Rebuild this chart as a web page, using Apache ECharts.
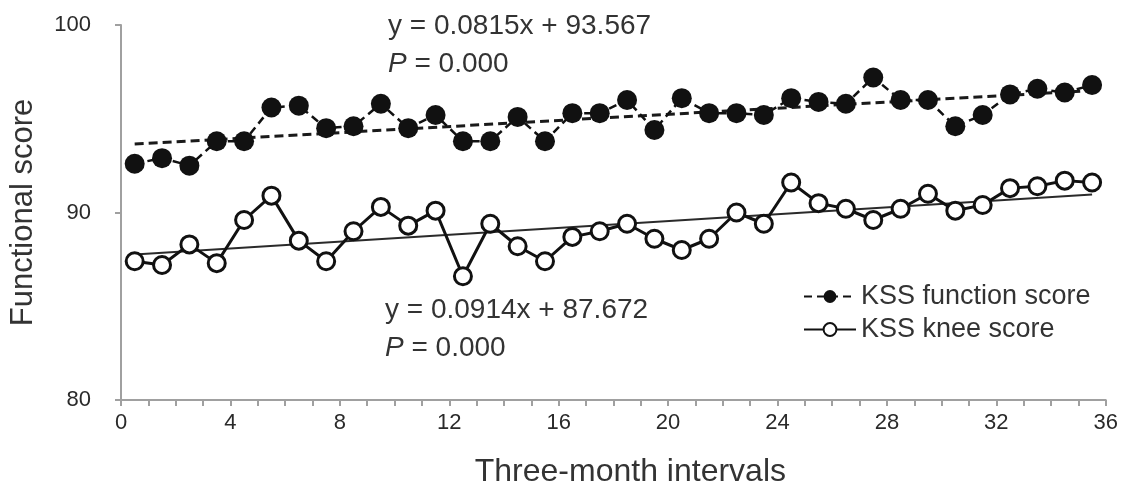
<!DOCTYPE html>
<html lang="en">
<head>
    <meta charset="UTF-8">
    <title>KSS scores over three-month intervals</title>
    <script src="https://cdn.jsdelivr.net/npm/echarts@6/dist/echarts.min.js"></script>
    <style>
        html, body { margin: 0; padding: 0; background: #fff; }
    </style>
</head>
<body>
    <div id="main" style="width: 1121px; height: 496px;"></div>
    <script>
        // interval number (1..36), plotted in the middle of each unit on the axis
        var intervals = [1, 2, 3, 4, 5, 6, 7, 8, 9, 10, 11, 12, 13, 14, 15, 16, 17, 18,
            19, 20, 21, 22, 23, 24, 25, 26, 27, 28, 29, 30, 31, 32, 33, 34, 35, 36];
        var functionScore = [92.6, 92.9, 92.5, 93.8, 93.8, 95.6, 95.7, 94.5, 94.6, 95.8, 94.5, 95.2,
            93.8, 93.8, 95.1, 93.8, 95.3, 95.3, 96.0, 94.4, 96.1, 95.3, 95.3, 95.2,
            96.1, 95.9, 95.8, 97.2, 96.0, 96.0, 94.6, 95.2, 96.3, 96.6, 96.4, 96.8];
        var kneeScore = [87.4, 87.2, 88.3, 87.3, 89.6, 90.9, 88.5, 87.4, 89.0, 90.3, 89.3, 90.1,
            86.6, 89.4, 88.2, 87.4, 88.7, 89.0, 89.4, 88.6, 88.0, 88.6, 90.0, 89.4,
            91.6, 90.5, 90.2, 89.6, 90.2, 91.0, 90.1, 90.4, 91.3, 91.4, 91.7, 91.6];
        // trend line: [slope, intercept]
        var functionTrend = [0.0815, 93.567];
        var kneeTrend = [0.0914, 87.672];
        var xTicks = [0, 4, 8, 12, 16, 20, 24, 28, 32, 36];

        function toPoints(values) {
            return values.map(function (v, i) { return [intervals[i] - 0.5, v]; });
        }
        function trendPoints(t) {
            var a = intervals[0], b = intervals[intervals.length - 1];
            return [[a - 0.5, t[0] * a + t[1]], [b - 0.5, t[0] * b + t[1]]];
        }

        var txt = '#333';
        var font = 'Liberation Sans, Arial, sans-serif';
        var eqStyle = { fontSize: 28, fill: txt, fontFamily: font };
        var myChart = echarts.init(document.getElementById('main'));
        myChart.setOption({
            animation: false,
            textStyle: { fontFamily: font },
            grid: { left: 121, right: 14, top: 25, bottom: 96 },
            xAxis: {
                type: 'value', min: 0, max: 36, interval: 4,
                name: 'Three-month intervals', nameLocation: 'middle', nameGap: 56,
                nameTextStyle: { fontSize: 32, color: txt, padding: [0, 0, 0, 34] },
                axisLine: { lineStyle: { color: '#a0a0a0', width: 2 } },
                axisTick: { show: true, length: 6, lineStyle: { color: '#a0a0a0', width: 2 } },
                minorTick: { show: true, splitNumber: 4, length: 6, lineStyle: { color: '#a0a0a0', width: 2 } },
                axisLabel: {
                    fontSize: 22, color: '#2a2a2a', margin: 12,
                    formatter: function (v) { return xTicks.indexOf(v) >= 0 ? String(v) : ''; }
                },
                splitLine: { show: false }
            },
            yAxis: {
                type: 'value', min: 80, max: 100, interval: 10,
                name: 'Functional score', nameLocation: 'middle', nameGap: 82,
                nameTextStyle: { fontSize: 31, color: txt },
                axisLine: { show: true, lineStyle: { color: '#a0a0a0', width: 2 } },
                axisTick: { show: true, length: 6, lineStyle: { color: '#a0a0a0', width: 2 } },
                axisLabel: { fontSize: 22, color: '#2a2a2a', margin: 30 },
                splitLine: { show: false }
            },
            legend: {
                orient: 'vertical', left: 798, top: 278,
                itemWidth: 52, itemHeight: 16, itemGap: 6,
                textStyle: { fontSize: 27, color: txt },
                data: ['KSS function score', 'KSS knee score']
            },
            graphic: [
                { type: 'text', left: 388, top: 12, style: Object.assign({ text: 'y = 0.0815x + 93.567' }, eqStyle) },
                { type: 'text', left: 388, top: 50, style: Object.assign({ text: '{i|P} = 0.000',
                    rich: { i: { fontStyle: 'italic', fontSize: 28, fontFamily: font } } }, eqStyle) },
                { type: 'text', left: 385, top: 296, style: Object.assign({ text: 'y = 0.0914x + 87.672' }, eqStyle) },
                { type: 'text', left: 385, top: 334, style: Object.assign({ text: '{i|P} = 0.000',
                    rich: { i: { fontStyle: 'italic', fontSize: 28, fontFamily: font } } }, eqStyle) }
            ],
            series: [
                {
                    name: 'function trend', type: 'line', data: trendPoints(functionTrend),
                    symbol: 'none', silent: true, z: 1,
                    lineStyle: { color: '#1a1a1a', width: 3, type: [9, 5] }
                },
                {
                    name: 'knee trend', type: 'line', data: trendPoints(kneeTrend),
                    symbol: 'none', silent: true, z: 1,
                    lineStyle: { color: '#2a2a2a', width: 2 }
                },
                {
                    name: 'KSS function score', type: 'line', data: toPoints(functionScore),
                    symbol: 'circle', symbolSize: 20, z: 3,
                    itemStyle: { color: '#111' },
                    lineStyle: { color: '#111', width: 2.5, type: [8, 5] }
                },
                {
                    name: 'KSS knee score', type: 'line', data: toPoints(kneeScore),
                    symbol: 'circle', symbolSize: 17, z: 3,
                    itemStyle: { color: '#fff', borderColor: '#111', borderWidth: 3 },
                    lineStyle: { color: '#111', width: 3 }
                }
            ]
        });
    </script>
</body>
</html>
